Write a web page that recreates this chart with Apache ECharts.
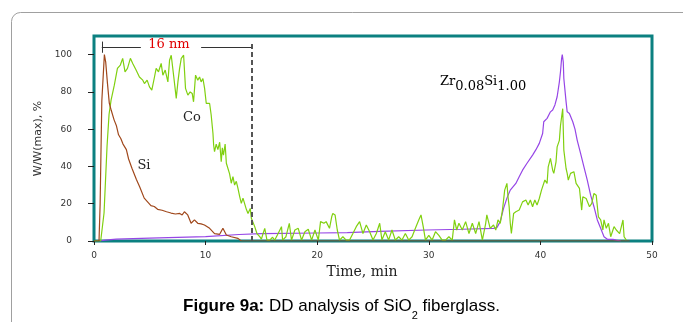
<!DOCTYPE html>
<html>
<head>
<meta charset="utf-8">
<script src="https://cdn.jsdelivr.net/npm/echarts@6/dist/echarts.min.js"></script>
<style>
  html, body { margin: 0; padding: 0; background: #fff; }
  #main { width: 683px; height: 322px; }
</style>
</head>
<body>
<div id="main"></div>
<script>
// values: time in min, signal in % of max
var yTicks = [0, 20, 40, 60, 80, 100];
var xTicks = [0, 10, 20, 30, 40, 50];

var siTime = [0, 0.45, 0.55, 0.7, 0.93, 1.05, 1.2, 1.37, 1.55, 1.8, 2.0, 2.2, 2.4, 2.6, 2.9, 3.1, 3.4, 3.8, 4.1, 4.5, 4.8, 5.1, 5.4, 5.7, 6.1, 6.5, 6.9, 7.3, 7.68, 7.9, 8.1, 8.4, 8.7, 9.0, 9.3, 9.6, 9.9, 10.36, 10.8, 11.26, 11.55, 11.86, 12.3, 12.9, 13.2, 48];
var siVal = [0, 0, 20, 75, 100, 96, 85, 74, 70, 65, 62, 57, 55, 52, 49, 44, 39, 33, 29, 23, 21, 19, 18.5, 17, 16.5, 15.7, 15, 14.5, 14.8, 14, 15.7, 14, 9.5, 11.3, 9.5, 9.2, 8.6, 6.8, 4, 3.6, 6.8, 3.2, 2.3, 1.4, 0, 0];

var coTime = [0, 0.6, 0.9, 1.17, 1.35, 1.53, 1.82, 2.1, 2.36, 2.57, 2.78, 3.0, 3.26, 3.47, 3.77, 4.07, 4.37, 4.52, 4.76, 4.97, 5.18, 5.42, 5.57, 5.78, 6.02, 6.17, 6.38, 6.62, 6.77, 6.92, 7.15, 7.37, 7.52, 7.67, 7.82, 8.03, 8.2, 8.41, 8.62, 8.8, 8.92, 9.1, 9.3, 9.46, 9.6, 9.76, 9.91, 10.06, 10.36, 10.5, 10.66, 10.72, 10.8, 10.95, 11.1, 11.26, 11.4, 11.5, 11.6, 11.75, 11.86, 12.0, 12.15, 12.3, 12.45, 12.6, 12.75, 12.9, 13.05, 13.2, 13.35, 13.5, 13.65, 13.8, 14.0, 14.1, 14.25, 14.4, 14.6, 14.85, 15.0, 15.15, 15.3, 15.5, 15.75, 16.0, 16.2, 16.5, 16.8, 16.9, 17.2, 17.5, 17.7, 18.0, 18.3, 18.6, 18.9, 19.2, 19.5, 19.8, 20.1, 20.3, 20.6, 20.8, 21.1, 21.3, 21.4, 21.6, 21.8, 22.0, 22.3, 22.6, 22.9, 23.2, 23.5, 23.8, 24.1, 24.4, 24.7, 25.0, 25.3, 25.6, 25.8, 26.1, 26.4, 26.7, 27.0, 27.3, 27.6, 27.9, 28.2, 28.5, 28.8, 29.1, 29.3, 29.5, 29.7, 30.0, 30.3, 30.6, 30.9, 31.2, 31.5, 31.8, 32.1, 32.3, 32.5, 32.7, 33.0, 33.3, 33.6, 33.9, 34.2, 34.5, 34.8, 35.1, 35.2, 35.5, 35.8, 36.0, 36.2, 36.4, 36.6, 36.8, 37.0, 37.1, 37.2, 37.3, 37.4, 37.6, 37.8, 38.1, 38.4, 38.7, 38.9, 39.1, 39.3, 39.5, 39.7, 39.9, 40.1, 40.2, 40.4, 40.6, 40.7, 40.9, 41.1, 41.2, 41.4, 41.5, 41.7, 41.8, 42.0, 42.1, 42.3, 42.4, 42.5, 42.7, 43.0, 43.2, 43.5, 43.7, 43.8, 44.1, 44.4, 44.6, 44.8, 45.0, 45.2, 45.4, 45.6, 45.7, 45.9, 46.1, 46.3, 46.5, 46.6, 46.8, 46.9, 47.1, 47.4, 47.5, 47.7];
var coVal = [0, 0, 15, 51, 68, 75.6, 83.6, 92.6, 94.4, 98, 90.8, 92.6, 98, 95.3, 91.7, 88, 86.3, 84.5, 86.3, 82.7, 81, 88, 92.6, 90.8, 95.3, 89, 91.7, 85.4, 97, 99.7, 88, 76.5, 85.4, 92.6, 98, 99.7, 81.9, 78.3, 80, 79.2, 74.7, 89, 86.3, 88, 85.4, 87.2, 81.9, 73.8, 73.8, 67.6, 57.7, 51.5, 47.9, 52, 49, 53, 42.5, 50, 46, 52, 41.7, 41.6, 36, 31, 34.5, 30, 32, 28.2, 24, 20.2, 23, 22, 17, 14.8, 17.5, 12.2, 10, 7.7, 4, 2.3, 1, 4, 6.8, 0.5, 0.5, 2, 0.5, 4, 7.7, 0.5, 2.3, 9.5, 0.5, 5.9, 6.8, 0.5, 5, 6.3, 0.5, 5.9, 0.5, 10.4, 9.5, 10.4, 6.8, 13, 14.8, 14, 5.9, 0.5, 2.3, 0.5, 0.5, 4, 7.7, 10.4, 4, 8.6, 5, 0.5, 4, 9.5, 0.5, 5, 0.5, 5.9, 0.5, 2.3, 0.5, 4, 0.5, 2.3, 6.8, 11.3, 14, 7.7, 0.5, 3, 0.5, 5, 3, 0.5, 0.5, 2.3, 0.5, 11.3, 5.9, 9.5, 5.9, 10.4, 4, 9.5, 4, 10.4, 0.5, 9.5, 14, 6.8, 8.6, 5.9, 11.3, 9.5, 16.6, 27.3, 30.9, 23.7, 18.4, 9.5, 4.1, 14.8, 15.7, 16.6, 21, 22, 19.3, 22, 18.4, 22, 19.3, 22.8, 27.3, 26.5, 32.7, 30.9, 39.8, 44.3, 38, 36.3, 42.5, 50.5, 54, 62, 71, 48.8, 38.9, 36.3, 32.7, 36.3, 37.2, 30.9, 28.2, 16.6, 23.7, 22.8, 18.4, 20.2, 25.5, 24.6, 12.9, 11.3, 5.9, 11.3, 6.8, 9.5, 2.3, 5.9, 7.7, 5.9, 6.8, 4, 11.3, 2.3, 0.5];

var zrTime = [0.5, 1, 2, 5, 10, 13, 15, 20, 22.7, 25.6, 29.8, 33, 35.8, 36.1, 36.4, 36.7, 37.0, 37.3, 37.8, 38.1, 38.4, 38.8, 39.3, 39.6, 39.9, 40.2, 40.3, 40.6, 40.9, 41.1, 41.3, 41.4, 41.5, 41.7, 41.8, 41.9, 41.96, 42.05, 42.1, 42.3, 42.4, 42.6, 42.9, 43.1, 43.3, 43.6, 43.9, 44.2, 44.5, 44.8, 45.1, 45.4, 45.7, 46.0, 46.5, 46.8, 47.2];
var zrVal = [0, 0.5, 1, 1.5, 2.3, 3.5, 4, 4.3, 4.5, 5.2, 5.9, 6.3, 6.8, 7.2, 10.4, 17.5, 23, 27.3, 30.9, 34.5, 38, 41.7, 46.1, 49, 52.4, 57.7, 64, 65.8, 69.3, 70.3, 73, 73.9, 77.4, 85.4, 90.8, 97.9, 100, 96, 87.2, 74.8, 69.3, 68.4, 64, 60, 54, 47, 39.8, 32.7, 24.6, 18.4, 11.3, 6.8, 2.3, 0.9, 0.9, 0.5, 0];

function pairs(t, v) {
  var out = [];
  for (var i = 0; i < t.length; i++) out.push([t[i], v[i]]);
  return out;
}

var chartDom = document.getElementById('main');
var myChart = echarts.init(chartDom);
var option;

option = {
  animation: false,
  backgroundColor: '#fff',
  title: {
    left: 'center',
    top: 286,
    text: '{b|Figure 9a:}{n| DD analysis of SiO}{s|2}{n| fiberglass.}',
    textStyle: {
      fontWeight: 'normal',
      rich: {
        b: { fontFamily: 'Liberation Sans', fontSize: 17, fontWeight: 'bold', color: '#000', lineHeight: 30 },
        n: { fontFamily: 'Liberation Sans', fontSize: 17, fontWeight: 'normal', color: '#000', lineHeight: 30 },
        s: { fontFamily: 'Liberation Sans', fontSize: 11, fontWeight: 'normal', color: '#000', lineHeight: 12, verticalAlign: 'bottom' }
      }
    }
  },
  graphic: [
    {
      type: 'rect', silent: true, z: -10,
      shape: { x: 11.5, y: 12.5, width: 760, height: 400, r: 9 },
      style: { fill: 'none', stroke: '#a0a0a0', lineWidth: 1 }
    },
    {
      type: 'text', x: 169, y: 45,
      style: { text: '16 nm', fill: '#e00000', font: '13px "DejaVu Serif"', textAlign: 'center', textVerticalAlign: 'middle' }
    },
    {
      type: 'text', x: 192, y: 118,
      style: { text: 'Co', fill: '#222', font: '13px "DejaVu Serif"', textAlign: 'center', textVerticalAlign: 'middle' }
    },
    {
      type: 'text', x: 144, y: 166,
      style: { text: 'Si', fill: '#222', font: '13px "DejaVu Serif"', textAlign: 'center', textVerticalAlign: 'middle' }
    },
    {
      type: 'text', x: 440, y: 75,
      style: {
        text: '{a|Zr}{b|0.08}{a|Si}{b|1.00}',
        rich: {
          a: { fontFamily: 'DejaVu Serif', fontSize: 13, color: '#222', lineHeight: 18, verticalAlign: 'top' },
          b: { fontFamily: 'DejaVu Serif', fontSize: 13, color: '#222', lineHeight: 14, verticalAlign: 'bottom' }
        }
      }
    }
  ],
  grid: {
    left: 94, right: 31, top: 36, bottom: 81,
    show: true,
    borderColor: '#0b8080',
    borderWidth: 3
  },
  xAxis: {
    type: 'value',
    min: 0, max: 50, interval: 10,
    name: 'Time, min',
    nameLocation: 'middle',
    nameGap: 22,
    nameTextStyle: { fontFamily: 'DejaVu Serif', fontSize: 14, color: '#222', padding: [0, 22, 0, 0] },
    axisLine: { show: false },
    axisTick: { show: true, length: 4, lineStyle: { color: '#222' } },
    axisLabel: { fontFamily: 'DejaVu Sans', fontSize: 9, color: '#333', margin: 10, customValues: xTicks },
    splitLine: { show: false }
  },
  yAxis: {
    type: 'value',
    min: 0, max: 110, interval: 20,
    name: 'W/W(max), %',
    nameLocation: 'middle',
    nameGap: 45,
    nameTextStyle: { fontFamily: 'DejaVu Sans', fontSize: 11, color: '#333' },
    axisLine: { show: false },
    axisTick: { show: true, length: 6, lineStyle: { color: '#222' }, customValues: yTicks },
    axisLabel: { fontFamily: 'DejaVu Sans', fontSize: 9, color: '#333', margin: 22, customValues: yTicks },
    splitLine: { show: false }
  },
  series: [
    {
      name: 'Zr0.08Si1.00', type: 'line', showSymbol: false, symbol: 'none',
      data: pairs(zrTime, zrVal),
      lineStyle: { color: '#9646e6', width: 1.2 }
    },
    {
      name: 'Co', type: 'line', showSymbol: false, symbol: 'none',
      data: pairs(coTime, coVal),
      lineStyle: { color: '#80d010', width: 1.2 }
    },
    {
      name: 'Si', type: 'line', showSymbol: false, symbol: 'none',
      data: pairs(siTime, siVal),
      lineStyle: { color: '#a0481c', width: 1.2 },
      markLine: {
        silent: true,
        symbol: ['none', 'none'],
        label: { show: false },
        data: [
          [{ coord: [14.1, 0], lineStyle: { type: [5, 3], color: '#555', width: 2 } }, { coord: [14.1, 107] }],
          [{ coord: [0.7, 104], lineStyle: { type: 'solid', color: '#333', width: 1 } }, { coord: [4.2, 104] }],
          [{ coord: [9.6, 104], lineStyle: { type: 'solid', color: '#333', width: 1 } }, { coord: [14.1, 104] }],
          [{ coord: [0.7, 101], lineStyle: { type: 'solid', color: '#333', width: 1 } }, { coord: [0.7, 107] }]
        ]
      }
    }
  ]
};
option && myChart.setOption(option);
</script>
</body>
</html>
